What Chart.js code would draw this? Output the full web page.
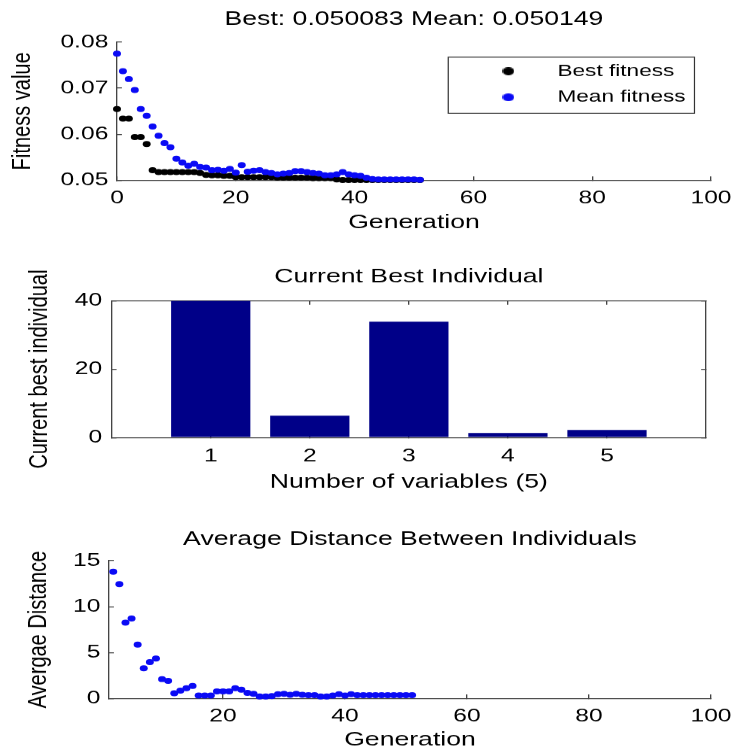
<!DOCTYPE html>
<html><head><meta charset="utf-8">
<script src="https://cdn.jsdelivr.net/npm/chart.js@4.4.1/dist/chart.umd.min.js"></script>
<style>
html,body{margin:0;padding:0;background:#fff;width:736px;height:753px;overflow:hidden;position:relative}
canvas{position:absolute;left:0}
</style></head><body>
<canvas id="c1" width="553" height="250" style="top:0px;width:736px;height:250px"></canvas>
<canvas id="c2" width="553" height="255" style="top:250px;width:736px;height:255px"></canvas>
<canvas id="c3" width="553" height="248" style="top:505px;width:736px;height:248px"></canvas>
<script>
// ---------- data ----------
const generations = [0,1,2,3,4,5,6,7,8,9,10,11,12,13,14,15,16,17,18,19,20,21,22,23,24,25,26,27,28,29,30,31,32,33,34,35,36,37,38,39,40,41,42,43,44,45,46,47,48,49,50,51];
const bestFitness = [0.0655,0.0634,0.0634,0.0594,0.0594,0.0579,0.0522,
  0.0518,0.0518,0.0518,0.0518,0.0518,0.0518,0.0518,
  0.0516,0.0512,0.0511,0.0511,0.0510,0.0510,
  0.0507,0.0507,0.0507,0.0507,0.0507,0.0507,0.0507,
  0.0506,0.0506,0.0506,0.0506,0.0506,0.0506,
  0.0505,0.0505,0.0505,0.0505,0.0502,
  0.0501,0.0501,0.0501,0.0501,0.0501,0.0501,0.0501,0.0501,0.0501,0.0501,0.0501,0.0501,0.0501,
  0.050083];
const meanFitness = [0.0775,0.0737,0.0720,0.0696,0.0655,0.0640,0.0617,0.0597,0.0581,0.0572,
  0.0547,0.0539,0.0532,0.0536,0.0529,0.0528,0.0522,0.0523,0.0521,0.0525,
  0.0517,0.0533,0.0519,0.0521,0.0522,0.0518,0.0516,0.0513,0.0515,0.0516,
  0.0520,0.0520,0.0518,0.0516,0.0515,0.0511,0.0511,0.0513,0.0518,0.0513,
  0.0511,0.0510,0.0506,0.0503,0.0502,0.0502,0.0502,0.0502,0.0502,0.0502,
  0.0502,0.050149];
const fitnessTicks = [0.05,0.06,0.07,0.08];
const fitnessTickLabels = ['0.05','0.06','0.07','0.08'];
const generationTicks = [0,20,40,60,80,100];
const generationTickLabels = ['0','20','40','60','80','100'];

const variableIndex = [1,2,3,4,5];
const variableTickLabels = ['1','2','3','4','5'];
const currentBest = [40,6.4,33.9,1.3,2.2];
const individualTicks = [0,20,40];
const individualTickLabels = ['0','20','40'];

const distanceGenerations = [2,3,4,5,6,7,8,9,10,11,12,13,14,15,16,17,18,19,20,21,22,23,24,25,26,27,28,29,30,31,32,33,34,35,36,37,38,39,40,41,42,43,44,45,46,47,48,49,50,51];
const averageDistance = [13.8,12.45,8.25,8.7,5.85,3.27,3.95,4.35,2.1,1.9,
  0.55,0.85,1.1,1.35,0.3,0.3,0.3,0.75,0.75,0.75,
  1.1,0.95,0.6,0.5,0.2,0.2,0.25,0.45,0.5,0.4,
  0.5,0.4,0.35,0.35,0.2,0.2,0.3,0.45,0.3,0.45,
  0.35,0.35,0.35,0.35,0.35,0.35,0.35,0.35,0.35,0.35];
const distanceTicks = [0,5,10,15];
const distanceTickLabels = ['0','5','10','15'];
const distanceGenTicks = [20,40,60,80,100];
const distanceGenTickLabels = ['20','40','60','80','100'];

// ---------- styling / helpers ----------
const K = 736 / 553;                 // horizontal stretch of the original figure
const FONT = "'Liberation Sans', Arial, Helvetica, sans-serif";
const AXIS = '#444444', TXT = '#000000';
const BLUE = '#0a0af5', BLACK = '#000000', NAVY = '#000088';
const TICK_FS = 18.5, LABEL_FS = 20, TITLE_FS = 20, LEGEND_FS = 17;

Chart.defaults.font.family = FONT;
Chart.defaults.color = TXT;
Chart.defaults.animation = false;

function setTicks(values) { return s => { s.ticks = values.map(v => ({ value: v })); }; }
function fixSize(size, horizontal) {
  return s => {
    if (horizontal) s.height = size; else s.width = size;
    s.paddingLeft = 0; s.paddingRight = 0; s.paddingTop = 0; s.paddingBottom = 0;
  };
}
function xAxis(o) {
  return {
    type: 'linear', position: o.position || 'bottom', min: o.min, max: o.max, offset: false,
    afterBuildTicks: setTicks(o.ticks), afterFit: fixSize(o.size, true),
    border: { display: true, color: AXIS, width: 1 },
    grid: { display: true, offset: false, drawOnChartArea: false, drawTicks: true, tickLength: -4, color: AXIS, lineWidth: 1 },
    ticks: { display: !!o.labels, padding: o.tickPad || 0, color: TXT, font: { size: TICK_FS }, maxRotation: 0, minRotation: 0, autoSkip: false,
      callback: (v, i) => o.labels ? o.labels[i] : '' },
    title: { display: !!o.title, text: o.title || '', color: TXT, font: { size: LABEL_FS }, padding: { top: 0, bottom: o.titlePad || 0 } }
  };
}
function yAxis(o) {
  return {
    type: 'linear', position: o.position || 'left', min: o.min, max: o.max, offset: false,
    afterBuildTicks: setTicks(o.ticks), afterFit: fixSize(o.size, false),
    border: { display: true, color: AXIS, width: 1 },
    grid: { display: true, offset: false, drawOnChartArea: false, drawTicks: true, tickLength: -3.7, color: AXIS, lineWidth: 1 },
    ticks: { display: !!o.labels, padding: o.tickPad || 0, color: TXT, font: { size: TICK_FS }, autoSkip: false,
      callback: (v, i) => o.labels ? o.labels[i] : '' },
    title: { display: !!o.title, text: o.title || '', color: TXT, font: { size: LABEL_FS }, padding: { top: o.titlePad || 0, bottom: 0 } }
  };
}
// centre chart titles over the plotting area (as in the original figure)
const centerTitle = {
  id: 'centerTitle',
  afterLayout(chart) {
    const t = chart.titleBlock;
    if (t) { t.left = chart.chartArea.left; t.right = chart.chartArea.right; t.width = t.right - t.left; }
  }
};
// legend box placed inside the axes, with a frame
const LEG = { left: 344.6, top: 53.5, boxL: 336.8, boxT: 57, boxW: 185, boxH: 56 };
const legendInside = {
  id: 'legendInside',
  beforeLayout(chart) {
    const lg = chart.legend;
    if (lg && !lg.__zeroFit) {
      const fit = lg.fit;
      lg.fit = function () { fit.call(this); this.width = 0; this.height = 0; };
      lg.__zeroFit = true;
    }
  },
  afterLayout(chart) {
    const lg = chart.legend;
    lg.left = LEG.left; lg.top = LEG.top; lg.width = 180; lg.height = 90;
    lg.right = lg.left + lg.width; lg.bottom = lg.top + lg.height;
  },
  afterDraw(chart) {
    const ctx = chart.ctx;
    ctx.save();
    ctx.strokeStyle = '#333333';
    ctx.lineWidth = 0.9;
    ctx.strokeRect(LEG.boxL, LEG.boxT, LEG.boxW, LEG.boxH);
    ctx.restore();
  }
};
function dot(color) {
  const c = document.createElement('canvas');
  c.width = 9; c.height = 8;
  const g = c.getContext('2d');
  g.fillStyle = color;
  g.beginPath(); g.ellipse(4.5, 4, 4.4, 4, 0, 0, Math.PI * 2); g.fill();
  return c;
}
const legendDots = [dot(BLACK), dot(BLUE)];
const pts = (xs, ys) => xs.map((x, i) => ({ x: x, y: ys[i] }));
const R = 3;

// ---------- 1: fitness ----------
new Chart(document.getElementById('c1'), {
  type: 'scatter',
  data: { datasets: [
    { label: 'Best fitness', data: pts(generations, bestFitness), backgroundColor: BLACK, borderColor: BLACK,
      pointRadius: R, pointBorderWidth: 0, pointHoverRadius: R, order: 2, clip: false },
    { label: 'Mean fitness', data: pts(generations, meanFitness), backgroundColor: BLUE, borderColor: BLUE,
      pointRadius: R, pointBorderWidth: 0, pointHoverRadius: R, order: 1, clip: false }
  ]},
  options: {
    responsive: false, devicePixelRatio: K, animation: false, events: [],
    layout: { padding: { left: 0, top: 0, right: 18.8, bottom: 0 } },
    plugins: {
      title: { display: true, text: 'Best: 0.050083 Mean: 0.050149', color: TXT, font: { size: TITLE_FS, weight: 'normal' }, padding: { top: 7.5, bottom: 10.5 } },
      legend: { display: true, position: 'right', align: 'start',
        labels: { usePointStyle: true, pointStyleWidth: 56.7, padding: 9, color: TXT, font: { size: LEGEND_FS },
          sort: (a, b) => a.datasetIndex - b.datasetIndex,
          generateLabels(chart) {
            const items = Chart.defaults.plugins.legend.labels.generateLabels(chart);
            items.forEach(it => { it.pointStyle = legendDots[it.datasetIndex]; });
            return items;
          } } },
      tooltip: { enabled: false }
    },
    scales: {
      x: xAxis({ min: 0, max: 100, ticks: generationTicks, labels: generationTickLabels, size: 70, tickPad: 10.4, title: 'Generation', titlePad: 16 }),
      y: yAxis({ min: 0.05, max: 0.08, ticks: fitnessTicks, labels: fitnessTickLabels, size: 87.9, tickPad: 10.2, title: 'Fitness value', titlePad: 4.9 })
    }
  },
  plugins: [centerTitle, legendInside]
});

// ---------- 2: current best individual ----------
new Chart(document.getElementById('c2'), {
  type: 'bar',
  data: { datasets: [
    { label: 'Current best individual', data: pts(variableIndex, currentBest), backgroundColor: NAVY, borderWidth: 0,
      categoryPercentage: 1, barPercentage: 0.8 }
  ]},
  options: {
    responsive: false, devicePixelRatio: K, animation: false, events: [],
    layout: { padding: { left: 0, top: 0, right: 22.5, bottom: 0 } },
    plugins: {
      title: { display: true, text: 'Current Best Individual', color: TXT, font: { size: TITLE_FS, weight: 'normal' }, padding: { top: 14.5, bottom: 12.2 } },
      legend: { display: false }, tooltip: { enabled: false }
    },
    scales: {
      x: xAxis({ min: 0, max: 6, ticks: variableIndex, labels: variableTickLabels, size: 67.7, tickPad: 11.6, title: 'Number of variables (5)', titlePad: 11 }),
      x2: xAxis({ position: 'top', min: 0, max: 6, ticks: variableIndex, size: 0 }),
      y: yAxis({ min: 0, max: 40, ticks: individualTicks, labels: individualTickLabels, size: 83.9, tickPad: 10.9, title: 'Current best individual', titlePad: 18.1 }),
      y2: yAxis({ position: 'right', min: 0, max: 40, ticks: individualTicks, size: 0 })
    }
  },
  plugins: [centerTitle]
});

// ---------- 3: average distance ----------
new Chart(document.getElementById('c3'), {
  type: 'scatter',
  data: { datasets: [
    { label: 'Average distance', data: pts(distanceGenerations, averageDistance), backgroundColor: BLUE, borderColor: BLUE,
      pointRadius: R, pointBorderWidth: 0, pointHoverRadius: R, clip: false }
  ]},
  options: {
    responsive: false, devicePixelRatio: K, animation: false, events: [],
    layout: { padding: { left: 0, top: 0, right: 18.8, bottom: 0 } },
    plugins: {
      title: { display: true, text: 'Average Distance Between Individuals', color: TXT, font: { size: TITLE_FS, weight: 'normal' }, padding: { top: 22.5, bottom: 9.2 } },
      legend: { display: false }, tooltip: { enabled: false }
    },
    scales: {
      x: xAxis({ min: 1.3, max: 100, ticks: distanceGenTicks, labels: distanceGenTickLabels, size: 54.7, tickPad: 11.1, title: 'Generation', titlePad: 1 }),
      y: yAxis({ min: 0, max: 15, ticks: distanceTicks, labels: distanceTickLabels, size: 81.9, tickPad: 10.2, title: 'Avergae Distance', titlePad: 17.3 })
    }
  },
  plugins: [centerTitle]
});
</script>
</body></html>
